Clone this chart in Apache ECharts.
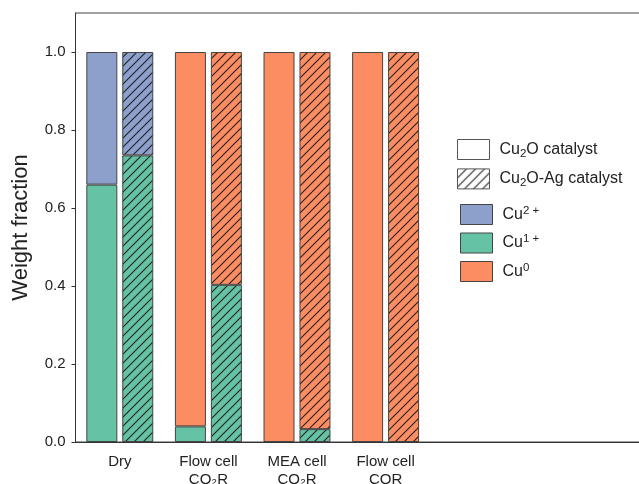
<!DOCTYPE html>
<html>
<head>
<meta charset="utf-8">
<script src="https://cdn.jsdelivr.net/npm/echarts@6/dist/echarts.min.js"></script>
<style>html,body{margin:0;padding:0;background:#fff;}#c{width:639px;height:484px;}</style>
</head>
<body>
<div id="c"></div>
<script>
// ---- data ----
const categories = ['Dry', 'Flow cell\nCO₂R', 'MEA cell\nCO₂R', 'Flow cell\nCOR'];
const cu2o_cu1 = [0.66, 0.04, 0, 0];
const cu2o_cu2 = [0.34, 0, 0, 0];
const cu2o_cu0 = [0, 0.96, 1.0, 1.0];
const ag_cu1 = [0.735, 0.403, 0.033, 0];
const ag_cu2 = [0.265, 0, 0, 0];
const ag_cu0 = [0, 0.597, 0.967, 1.0];
const yTicks = [0, 0.2, 0.4, 0.6, 0.8, 1.0];

const C2 = '#8da0cb', C1 = '#66c2a5', C0 = '#fc8d62';
const EDGE = '#444';
const FONT = 'Liberation Sans, Arial, sans-serif';

function makeHatch(base) {
  const s = 9;
  const cv = document.createElement('canvas');
  cv.width = s; cv.height = s;
  const g = cv.getContext('2d');
  g.fillStyle = base; g.fillRect(0, 0, s, s);
  g.strokeStyle = 'rgba(20,20,20,0.92)';
  g.lineWidth = 1.1;
  g.beginPath();
  g.moveTo(-1, s + 1); g.lineTo(s + 1, -1);
  g.moveTo(-1, 1); g.lineTo(1, -1);
  g.moveTo(s - 1, s + 1); g.lineTo(s + 1, s - 1);
  g.stroke();
  return { image: cv, repeat: 'repeat' };
}

const nz = a => a.map(v => v === 0 ? '-' : v);
const nExtra = 3;
const axisCats = categories.concat(Array(nExtra).fill(''));

function bar(name, stack, data, color) {
  return {
    type: 'bar', name: name, stack: stack, data: nz(data),
    barWidth: 31, barGap: '16%',
    itemStyle: { color: color, borderColor: EDGE, borderWidth: 1 },
    emphasis: { disabled: true }
  };
}

const hatchW = makeHatch('#ffffff');

const legendRich = {
  n: { fontSize: 16, lineHeight: 20, color: '#222', fontFamily: FONT },
  sub: { fontSize: 11.5, lineHeight: 11, verticalAlign: 'bottom', color: '#222', fontFamily: FONT },
  sup: { fontSize: 11.5, lineHeight: 11, verticalAlign: 'top', color: '#222', fontFamily: FONT }
};
const legendFmt = {
  'Cu₂O catalyst': '{n|Cu}{sub|2}{n|O catalyst}',
  'Cu₂O-Ag catalyst': '{n|Cu}{sub|2}{n|O-Ag catalyst}',
  'Cu²⁺': '{n|Cu}{sup|2 +}',
  'Cu¹⁺': '{n|Cu}{sup|1 +}',
  'Cu⁰': '{n|Cu}{sup|0}'
};

const chart = echarts.init(document.getElementById('c'), null, { renderer: 'canvas' });
chart.setOption({
  animation: false,
  backgroundColor: '#fff',
  grid: { left: 75.5, top: 13, width: 88.6 * axisCats.length, bottom: 42, show: true, borderColor: '#444', borderWidth: 1, containLabel: false, outerBoundsMode: 'none' },
  xAxis: {
    type: 'category', data: axisCats,
    axisLine: { lineStyle: { color: '#333', width: 1 } },
    axisTick: { alignWithLabel: true, length: 5, interval: (i) => i < categories.length, lineStyle: { color: '#333' } },
    axisLabel: { interval: 0, margin: 11, fontSize: 15, lineHeight: 18, color: '#222', fontFamily: FONT }
  },
  yAxis: {
    type: 'value', min: 0, max: 1.1, interval: 0.2,
    name: 'Weight fraction', nameLocation: 'middle', nameGap: 44,
    nameTextStyle: { fontSize: 22, color: '#222', fontFamily: FONT },
    axisLine: { show: true, lineStyle: { color: '#333', width: 1 } },
    axisTick: { show: true, length: 4, lineStyle: { color: '#333' } },
    splitLine: { show: false },
    axisLabel: { margin: 10, fontSize: 15, color: '#222', fontFamily: FONT, showMaxLabel: false,
      formatter: v => yTicks.some(t => Math.abs(t - v) < 1e-9) ? v.toFixed(1) : '' }
  },
  legend: [
    {
      orient: 'vertical', left: 452, top: 134, itemWidth: 32, itemHeight: 20, itemGap: 8.4,
      selectedMode: false,
      formatter: n => legendFmt[n] || n,
      textStyle: { fontSize: 16, color: '#222', fontFamily: FONT, padding: [0, 0, 0, 5], rich: legendRich },
      data: [
        { name: 'Cu₂O catalyst', icon: 'rect', itemStyle: { color: '#fff', borderColor: '#555', borderWidth: 1 } },
        { name: 'Cu₂O-Ag catalyst', icon: 'rect', itemStyle: { color: hatchW, borderColor: '#555', borderWidth: 1 } }
      ]
    },
    {
      orient: 'vertical', left: 455, top: 199, itemWidth: 32, itemHeight: 20, itemGap: 7.5,
      selectedMode: false,
      formatter: n => legendFmt[n] || n,
      textStyle: { fontSize: 16, color: '#222', fontFamily: FONT, padding: [0, 0, 0, 5], rich: legendRich },
      data: [
        { name: 'Cu²⁺', icon: 'rect', itemStyle: { color: C2, borderColor: EDGE, borderWidth: 1 } },
        { name: 'Cu¹⁺', icon: 'rect', itemStyle: { color: C1, borderColor: EDGE, borderWidth: 1 } },
        { name: 'Cu⁰', icon: 'rect', itemStyle: { color: C0, borderColor: EDGE, borderWidth: 1 } }
      ]
    }
  ],
  series: [
    bar('Cu¹⁺', 'a', cu2o_cu1, C1),
    bar('Cu²⁺', 'a', cu2o_cu2, C2),
    bar('Cu⁰', 'a', cu2o_cu0, C0),
    { type: 'bar', name: 'Cu₂O catalyst', stack: 'a', data: [], itemStyle: { color: '#fff' } },
    bar('Cu¹⁺', 'b', ag_cu1, makeHatch(C1)),
    bar('Cu²⁺', 'b', ag_cu2, makeHatch(C2)),
    bar('Cu⁰', 'b', ag_cu0, makeHatch(C0)),
    { type: 'bar', name: 'Cu₂O-Ag catalyst', stack: 'b', data: [], itemStyle: { color: hatchW } }
  ]
});
</script>
</body>
</html>
